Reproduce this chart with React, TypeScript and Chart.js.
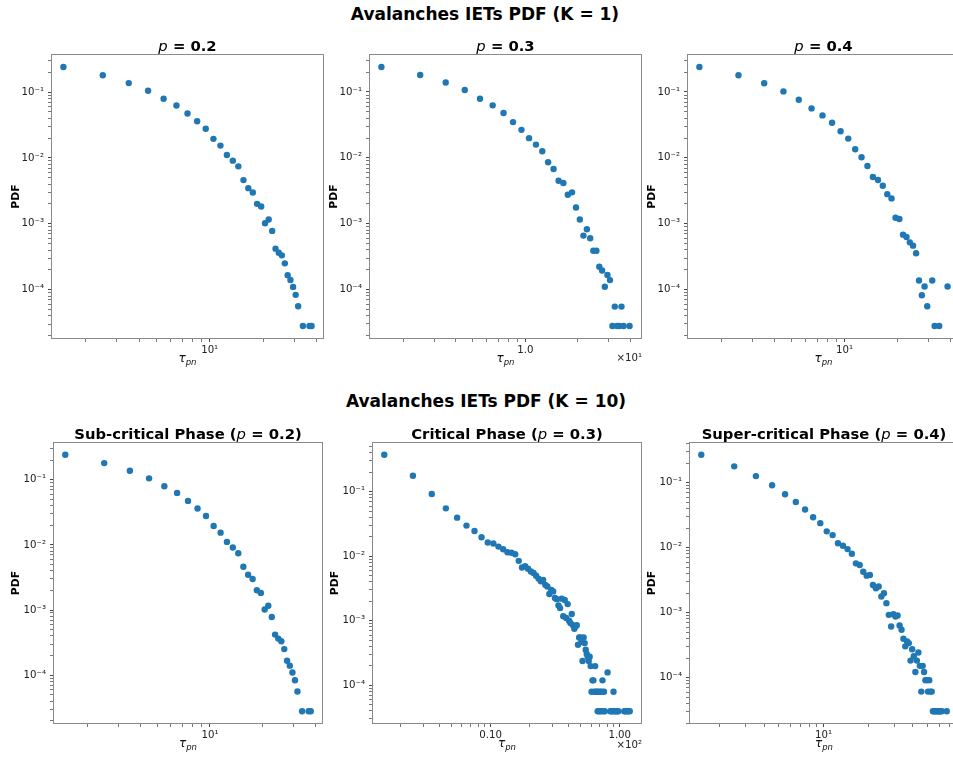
import React, { useEffect, useRef } from "react";
import { Chart, registerables } from "chart.js";

Chart.register(...registerables);

// ---------------- data ----------------
const tauK1P02 = [1.5, 2.5, 3.5, 4.5, 5.5, 6.5, 7.5, 8.5, 9.5, 10.5, 11.5, 12.5, 13.5, 14.5, 15.5, 16.5, 17.5, 18.5, 19.5, 20.5, 21.5, 22.5, 23.5, 24.5, 25.5, 26.5, 27.5, 28.5, 29.5, 30.5, 31.5, 33.5, 36.5, 37.5];
const pdfK1P02 = [0.241, 0.18, 0.137, 0.105, 0.0792, 0.0627, 0.0473, 0.0361, 0.0277, 0.0195, 0.0154, 0.0111, 0.0091, 0.00745, 0.00461, 0.00348, 0.00299, 0.00201, 0.00183, 0.00102, 0.00116, 0.00078, 0.000419, 0.000364, 0.000332, 0.000251, 0.000166, 0.00014, 0.00011, 0.0000834, 0.000056, 0.000028, 0.000028, 0.000028];

const tauK1P03 = [1.5, 2.5, 3.5, 4.5, 5.5, 6.5, 7.5, 8.5, 9.5, 10.5, 11.5, 12.5, 13.5, 14.5, 15.5, 16.5, 17.5, 18.5, 19.5, 20.5, 21.5, 22.5, 23.5, 24.5, 25.5, 26.5, 27.5, 28.5, 29.5, 30.5, 31.5, 32.5, 33.5, 34.5, 35.5, 36.5, 39.5];
const pdfK1P03 = [0.24, 0.181, 0.139, 0.107, 0.0791, 0.0627, 0.0479, 0.0349, 0.0266, 0.0199, 0.0159, 0.0126, 0.00855, 0.00677, 0.0045, 0.00414, 0.00275, 0.00299, 0.00176, 0.00116, 0.000659, 0.000824, 0.0006, 0.000389, 0.000389, 0.000222, 0.000195, 0.00011, 0.000166, 0.000139, 0.0000279, 0.0000551, 0.0000279, 0.0000279, 0.0000551, 0.0000279, 0.0000279];

const tauK1P04 = [1.5, 2.5, 3.5, 4.5, 5.5, 6.5, 7.5, 8.5, 9.5, 10.5, 11.5, 12.5, 13.5, 14.5, 15.5, 16.5, 17.5, 18.5, 19.5, 20.5, 21.5, 22.5, 23.5, 24.5, 25.5, 26.5, 27.5, 28.5, 29.5, 31.5, 32.5, 34.5, 38.5];
const pdfK1P04 = [0.24, 0.18, 0.136, 0.102, 0.0763, 0.0563, 0.0441, 0.0341, 0.0254, 0.0196, 0.0135, 0.0102, 0.00752, 0.00511, 0.0046, 0.00377, 0.00281, 0.00242, 0.00123, 0.00118, 0.000682, 0.000629, 0.000521, 0.000464, 0.000355, 0.000137, 0.0000821, 0.000111, 0.0000557, 0.000137, 0.0000279, 0.0000279, 0.000111];

const tauK10P02 = [1.5, 2.5, 3.5, 4.5, 5.5, 6.5, 7.5, 8.5, 9.5, 10.5, 11.5, 12.5, 13.5, 14.5, 15.5, 16.5, 17.5, 18.5, 19.5, 20.5, 21.5, 22.5, 23.5, 24.5, 25.5, 26.5, 27.5, 28.5, 29.5, 30.5, 31.5, 33.5, 36.5, 37.5];
const pdfK10P02 = [0.241, 0.18, 0.137, 0.105, 0.0792, 0.0627, 0.0473, 0.0361, 0.0277, 0.0195, 0.0154, 0.0111, 0.0091, 0.00745, 0.00461, 0.00348, 0.00299, 0.00201, 0.00183, 0.00102, 0.00116, 0.00078, 0.000419, 0.000364, 0.000332, 0.000251, 0.000166, 0.00014, 0.00011, 0.0000834, 0.000056, 0.000028, 0.000028, 0.000028];

const tauK10P03 = [1.5, 2.5, 3.5, 4.5, 5.5, 6.5, 7.5, 8.5, 9.5, 10.5, 11.5, 12.5, 13.5, 14.5, 15.5, 16.5, 17.5, 18.5, 19.5, 20.5, 21.5, 22.5, 23.5, 24.5, 25.5, 26.5, 27.5, 28.5, 29.5, 30.5, 31.5, 32.5, 33.5, 34.5, 35.5, 36.5, 37.5, 38.5, 39.5, 40.5, 41.5, 42.5, 43.5, 44.5, 45.5, 46.5, 47.5, 48.5, 49.5, 50.5, 51.5, 52.5, 53.5, 54.5, 55.5, 56.5, 57.5, 58.5, 59.5, 60.5, 61.5, 62.5, 63.5, 64.5, 65.5, 66.5, 67.5, 68.5, 69.5, 70.5, 71.5, 72.5, 73.5, 74.5, 75.5, 76.5, 80.5, 84.5, 86.5, 88.5, 89.5, 91.5, 93.5, 95.5, 97.5, 108.5, 110.5, 113.5, 116.5, 119.5];
const pdfK10P03 = [0.373, 0.177, 0.092, 0.0552, 0.0396, 0.0298, 0.0246, 0.0197, 0.0163, 0.0157, 0.0141, 0.0128, 0.0115, 0.0113, 0.0107, 0.00848, 0.0067, 0.007, 0.0064, 0.0058, 0.0055, 0.005, 0.0045, 0.0041, 0.0043, 0.0036, 0.0034, 0.0026, 0.003, 0.00285, 0.00225, 0.00216, 0.00173, 0.00157, 0.0022, 0.00117, 0.0021, 0.0011, 0.00181, 0.001, 0.00092, 0.00127, 0.00085, 0.00075, 0.00082, 0.00085, 0.000425, 0.00055, 0.00055, 0.000468, 0.000238, 0.00055, 0.00045, 0.000356, 0.000305, 0.000277, 0.000238, 0.000277, 0.000198, 0.0000792, 0.000119, 0.000119, 0.0000792, 0.000198, 0.0000792, 0.0000792, 0.0000396, 0.0000792, 0.0000396, 0.0000792, 0.0000396, 0.0000792, 0.000119, 0.0000396, 0.0000792, 0.0000396, 0.000158, 0.0000396, 0.0000396, 0.0000396, 0.0000792, 0.0000396, 0.0000396, 0.0000396, 0.0000396, 0.0000396, 0.0000396, 0.0000396, 0.0000396, 0.0000396];

const tauK10P04 = [1.5, 2.5, 3.5, 4.5, 5.5, 6.5, 7.5, 8.5, 9.5, 10.5, 11.5, 12.5, 13.5, 14.5, 15.5, 16.5, 17.5, 18.5, 19.5, 20.5, 21.5, 22.5, 23.5, 24.5, 25.5, 26.5, 27.5, 28.5, 29.5, 30.5, 31.5, 32.5, 33.5, 34.5, 35.5, 36.5, 37.5, 38.5, 39.5, 40.5, 41.5, 42.5, 43.5, 44.5, 45.5, 46.5, 47.5, 48.5, 49.5, 50.5, 51.5, 52.5, 53.5, 54.5, 55.5, 56.5, 57.5, 58.5, 59.5, 60.5, 61.5, 62.5, 67.5];
const pdfK10P04 = [0.268, 0.178, 0.126, 0.091, 0.0662, 0.0505, 0.0386, 0.0294, 0.0238, 0.0178, 0.0156, 0.0117, 0.0107, 0.0095, 0.00806, 0.00573, 0.00541, 0.00427, 0.00371, 0.00379, 0.00267, 0.00237, 0.00252, 0.00177, 0.00199, 0.0014, 0.000925, 0.000612, 0.000946, 0.000872, 0.000904, 0.000635, 0.000545, 0.000396, 0.000303, 0.000361, 0.00034, 0.000183, 0.000274, 0.000213, 0.000122, 0.000183, 0.000244, 0.000152, 0.000061, 0.000152, 0.000122, 0.0000915, 0.0000915, 0.000061, 0.0000915, 0.000061, 0.000061, 0.0000305, 0.0000305, 0.0000305, 0.0000305, 0.0000305, 0.0000305, 0.0000305, 0.0000305, 0.0000305, 0.0000305];

// tick labels
const yMajorValues = [1e-4, 1e-3, 1e-2, 1e-1];
const yMajorLabels = ["10\u207B\u2074", "10\u207B\u00B3", "10\u207B\u00B2", "10\u207B\u00B9"];
const xMajorValuesPow = [10];
const xMajorLabelsPow = ["10\u00B9"];
const xMajorValuesK1P03 = [10];
const xMajorLabelsK1P03 = ["1.0"];
const xMajorValuesK10P03 = [10, 100];
const xMajorLabelsK10P03 = ["0.10", "1.00"];

const suptitleTop = "Avalanches IETs PDF (K = 1)";
const suptitleBottom = "Avalanches IETs PDF (K = 10)";

// ---------------- styling / layout ----------------
const FAM = '"DejaVu Sans"';
const BLUE = "#1f77b4";
const PAD_LEFT = 50;
const PAD_TOP = 30;
const PAD_RIGHT = 10;
const PAD_BOTTOM = 42;
const TITLE_SIZE = 14.8;
const TICK_SIZE = 10.2;

type Part = { text: string; font: string; dy?: number };

const bold = (t: string): Part => ({ text: t, font: `bold ${TITLE_SIZE}px ${FAM}` });
const ital = (t: string): Part => ({ text: t, font: `italic ${TITLE_SIZE}px ${FAM}` });

type PanelSpec = {
  tau: number[];
  pdf: number[];
  box: { x: number; y: number; w: number; h: number };
  title: Part[];
  titleGap: number;
  ylabelOffset: number;
  xMajors: number[];
  xLabels: string[];
  offsetText?: string;
  offsetDy?: number;
};

const panels: PanelSpec[] = [
  {
    tau: tauK1P02, pdf: pdfK1P02,
    box: { x: 51, y: 54, w: 273, h: 285 },
    title: [ital("p"), bold(" = 0.2")], titleGap: 3, ylabelOffset: 35,
    xMajors: xMajorValuesPow, xLabels: xMajorLabelsPow,
  },
  {
    tau: tauK1P03, pdf: pdfK1P03,
    box: { x: 369, y: 54, w: 273, h: 285 },
    title: [ital("p"), bold(" = 0.3")], titleGap: 3, ylabelOffset: 34.5,
    xMajors: xMajorValuesK1P03, xLabels: xMajorLabelsK1P03,
    offsetText: "\u00D710\u00B9", offsetDy: 21.5,
  },
  {
    tau: tauK1P04, pdf: pdfK1P04,
    box: { x: 687, y: 54, w: 273, h: 285 },
    title: [ital("p"), bold(" = 0.4")], titleGap: 3, ylabelOffset: 34.5,
    xMajors: xMajorValuesPow, xLabels: xMajorLabelsPow,
  },
  {
    tau: tauK10P02, pdf: pdfK10P02,
    box: { x: 53, y: 442, w: 270, h: 282 },
    title: [bold("Sub-critical Phase ("), ital("p"), bold(" = 0.2)")], titleGap: 3, ylabelOffset: 37,
    xMajors: xMajorValuesPow, xLabels: xMajorLabelsPow,
  },
  {
    tau: tauK10P03, pdf: pdfK10P03,
    box: { x: 372, y: 442, w: 270, h: 282 },
    title: [bold("Critical Phase ("), ital("p"), bold(" = 0.3)")], titleGap: 3, ylabelOffset: 37,
    xMajors: xMajorValuesK10P03, xLabels: xMajorLabelsK10P03,
    offsetText: "\u00D710\u00B2", offsetDy: 24,
  },
  {
    tau: tauK10P04, pdf: pdfK10P04,
    box: { x: 689, y: 442, w: 270, h: 282 },
    title: [bold("Super-critical Phase ("), ital("p"), bold(" = 0.4)")], titleGap: 3, ylabelOffset: 36.5,
    xMajors: xMajorValuesPow, xLabels: xMajorLabelsPow,
  },
];

// matplotlib-like auto limits: 5% margin in log space
function logLimits(arr: number[]) {
  const lo = Math.log10(Math.min(...arr));
  const hi = Math.log10(Math.max(...arr));
  const m = 0.05 * (hi - lo);
  return { min: Math.pow(10, lo - m), max: Math.pow(10, hi + m) };
}

function logTicks(min: number, max: number) {
  const out: any[] = [];
  const e0 = Math.floor(Math.log10(min));
  const e1 = Math.ceil(Math.log10(max));
  for (let e = e0; e <= e1; e++) {
    for (let m = 1; m <= 9; m++) {
      const v = m * Math.pow(10, e);
      if (v >= min && v <= max) out.push({ value: v, isMajor: m === 1 });
    }
  }
  return out;
}

function labelFor(value: number, majors: number[], labels: string[]) {
  for (let i = 0; i < majors.length; i++) {
    if (Math.abs(value / majors[i] - 1) < 1e-6) return labels[i];
  }
  return "";
}

function drawRich(ctx: CanvasRenderingContext2D, parts: Part[], cx: number, y: number) {
  const widths = parts.map((p) => {
    ctx.font = p.font;
    return ctx.measureText(p.text).width;
  });
  const total = widths.reduce((a, b) => a + b, 0);
  let x = cx - total / 2;
  ctx.textAlign = "left";
  ctx.textBaseline = "alphabetic";
  parts.forEach((p, i) => {
    ctx.font = p.font;
    ctx.fillText(p.text, x, y + (p.dy || 0));
    x += widths[i];
  });
}

function decorPlugin(spec: PanelSpec) {
  return {
    id: "decor",
    afterDraw(chart: any) {
      const ctx: CanvasRenderingContext2D = chart.ctx;
      const a = chart.chartArea;
      const cx = (a.left + a.right) / 2;
      const cy = (a.top + a.bottom) / 2;
      ctx.save();
      // frame (spines)
      ctx.strokeStyle = "#8a8a8a";
      ctx.lineWidth = 1;
      ctx.strokeRect(a.left + 0.5, a.top + 0.5, a.right - a.left - 1, a.bottom - a.top - 1);
      // title
      ctx.fillStyle = "#000";
      drawRich(ctx, spec.title, cx, a.top - spec.titleGap);
      // x label  tau_pn
      ctx.fillStyle = "#111";
      drawRich(
        ctx,
        [
          { text: "\u03C4", font: `italic 12px ${FAM}` },
          { text: "pn", font: `italic 8.5px ${FAM}`, dy: 2.8 },
        ],
        cx,
        a.bottom + 23
      );
      // y label
      ctx.save();
      ctx.fillStyle = "#000";
      ctx.translate(a.left - spec.ylabelOffset, cy);
      ctx.rotate(-Math.PI / 2);
      ctx.font = `bold 10.8px ${FAM}`;
      ctx.textAlign = "center";
      ctx.textBaseline = "middle";
      ctx.fillText("PDF", 0, 0);
      ctx.restore();
      // offset text
      if (spec.offsetText) {
        ctx.font = `${TICK_SIZE}px ${FAM}`;
        ctx.fillStyle = "#222";
        ctx.textAlign = "right";
        ctx.textBaseline = "alphabetic";
        ctx.fillText(spec.offsetText, a.right, a.bottom + (spec.offsetDy || 21));
      }
      ctx.restore();
    },
  };
}

function tickColor(c: any) {
  return c.tick && c.tick.isMajor ? "#444" : "#777";
}

function makeConfig(spec: PanelSpec): any {
  const xl = logLimits(spec.tau);
  const yl = logLimits(spec.pdf);
  return {
    type: "scatter",
    data: {
      datasets: [
        {
          data: spec.tau.map((t, i) => ({ x: t, y: spec.pdf[i] })),
          backgroundColor: BLUE,
          borderColor: BLUE,
          borderWidth: 0,
          pointRadius: 3.2,
          pointHoverRadius: 3.2,
        },
      ],
    },
    options: {
      animation: false,
      responsive: false,
      maintainAspectRatio: false,
      events: [],
      layout: { padding: { left: 0, top: PAD_TOP, right: PAD_RIGHT, bottom: 0 }, autoPadding: false },
      plugins: { legend: { display: false }, title: { display: false }, tooltip: { enabled: false } },
      scales: {
        x: {
          type: "logarithmic",
          position: "bottom",
          min: xl.min,
          max: xl.max,
          bounds: "data",
          border: { display: false },
          grid: { display: true, drawOnChartArea: false, drawTicks: true, tickLength: 3, tickColor, tickWidth: 1 },
          ticks: {
            autoSkip: false,
            maxRotation: 0,
            minRotation: 0,
            padding: 2,
            color: "#222",
            font: { family: FAM, size: TICK_SIZE },
            callback: (v: number) => labelFor(v, spec.xMajors, spec.xLabels),
          },
          afterBuildTicks: (s: any) => {
            s.ticks = logTicks(s.min, s.max);
          },
          afterFit: (s: any) => {
            s.height = PAD_BOTTOM;
          },
        },
        y: {
          type: "logarithmic",
          position: "left",
          min: yl.min,
          max: yl.max,
          bounds: "data",
          border: { display: false },
          grid: { display: true, drawOnChartArea: false, drawTicks: true, tickLength: 3, tickColor, tickWidth: 1 },
          ticks: {
            autoSkip: false,
            padding: 4,
            color: "#222",
            font: { family: FAM, size: TICK_SIZE },
            callback: (v: number) => labelFor(v, yMajorValues, yMajorLabels),
          },
          afterBuildTicks: (s: any) => {
            s.ticks = logTicks(s.min, s.max);
          },
          afterFit: (s: any) => {
            s.width = PAD_LEFT;
          },
        },
      },
    },
    plugins: [decorPlugin(spec)],
  };
}

function Panel({ spec }: { spec: PanelSpec }) {
  const ref = useRef<HTMLCanvasElement | null>(null);
  const W = spec.box.w + PAD_LEFT + PAD_RIGHT;
  const H = spec.box.h + PAD_TOP + PAD_BOTTOM;
  useEffect(() => {
    if (!ref.current) return;
    const chart = new Chart(ref.current, makeConfig(spec));
    return () => chart.destroy();
  }, [spec]);
  return (
    <canvas
      ref={ref}
      width={W}
      height={H}
      style={{ position: "absolute", left: spec.box.x - PAD_LEFT, top: spec.box.y - PAD_TOP, width: W, height: H }}
    />
  );
}

const supStyle: React.CSSProperties = {
  position: "absolute",
  left: 485,
  transform: "translateX(-50%)",
  whiteSpace: "nowrap",
  fontFamily: FAM,
  fontWeight: "bold",
  fontSize: 17,
  lineHeight: "normal",
  color: "#000",
};

export default function App() {
  return (
    <div
      style={{
        position: "fixed",
        left: 0,
        top: 0,
        width: 953,
        height: 760,
        overflow: "hidden",
        background: "#fff",
      }}
    >
      <div style={{ ...supStyle, top: 4 }}>{suptitleTop}</div>
      <div style={{ ...supStyle, top: 390.5, left: 486 }}>{suptitleBottom}</div>
      {panels.map((p, i) => (
        <Panel key={i} spec={p} />
      ))}
    </div>
  );
}
